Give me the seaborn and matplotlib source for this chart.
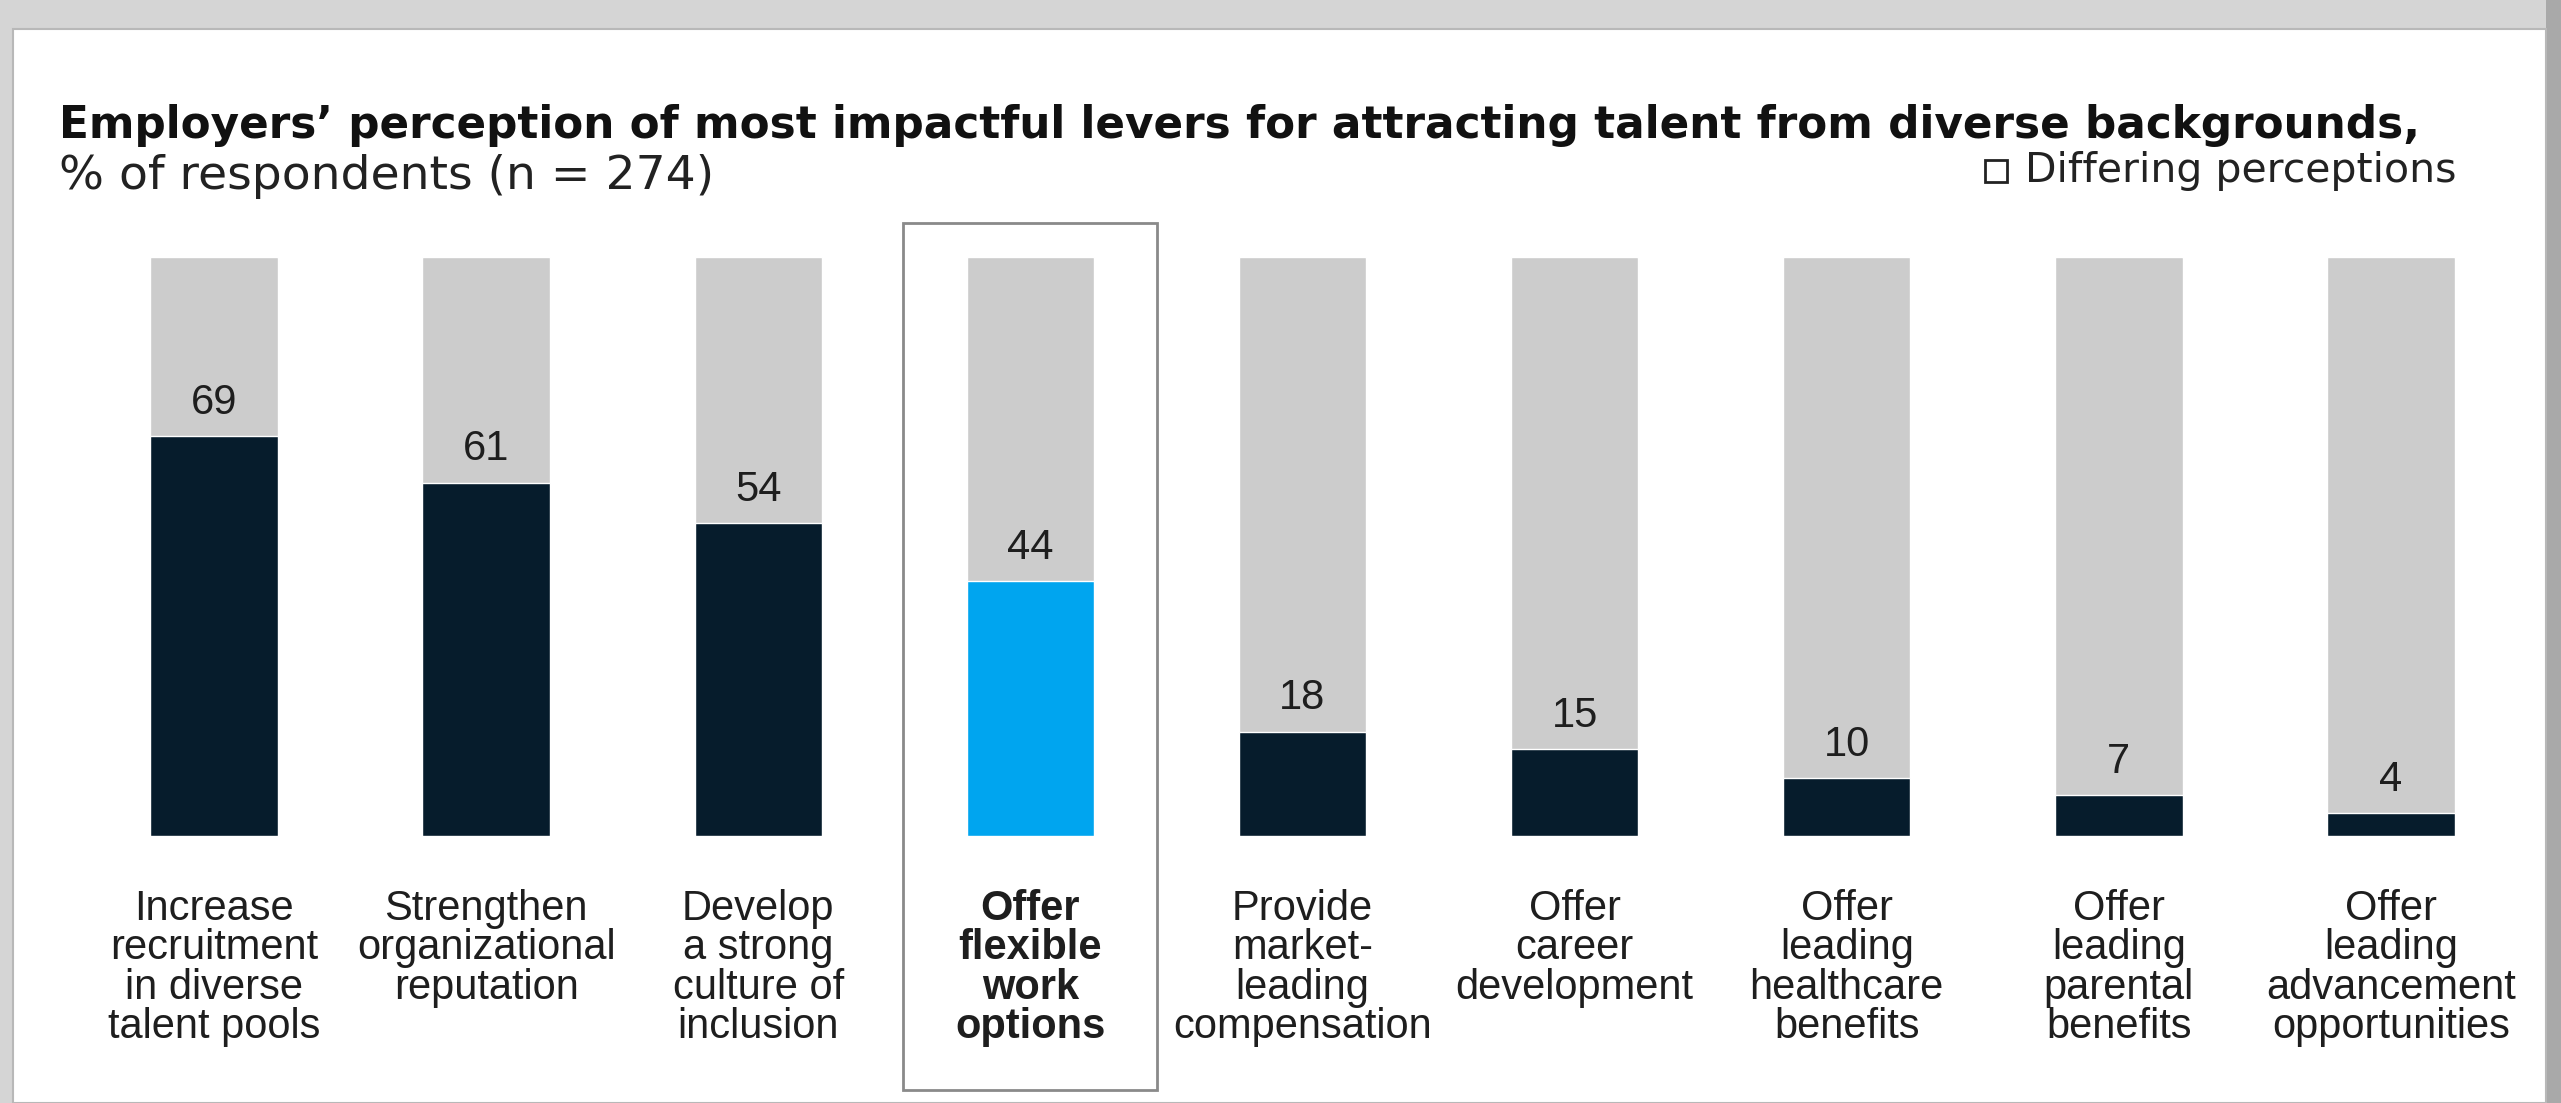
import matplotlib
matplotlib.use("Agg")
import matplotlib.pyplot as plt
from matplotlib.patches import Rectangle
import seaborn as sns
import pandas as pd

# Survey data
categories = [
    "Increase\nrecruitment\nin diverse\ntalent pools",
    "Strengthen\norganizational\nreputation",
    "Develop\na strong\nculture of\ninclusion",
    "Offer\nflexible\nwork\noptions",
    "Provide\nmarket-\nleading\ncompensation",
    "Offer\ncareer\ndevelopment",
    "Offer\nleading\nhealthcare\nbenefits",
    "Offer\nleading\nparental\nbenefits",
    "Offer\nleading\nadvancement\nopportunities",
]
values = [69, 61, 54, 44, 18, 15, 10, 7, 4]
highlight = "Offer\nflexible\nwork\noptions"

title = "Employers\u2019 perception of most impactful levers for attracting talent from diverse backgrounds,"
subtitle = "% of respondents (n = 274)"
legend_label = "Differing perceptions"

NAVY = "#061c2c"
CYAN = "#00a5ef"
GRAY = "#cccccc"
TEXT = "#1e1e1e"
HEAD_FONT = ["DejaVu Sans"]

sns.set_style("white")
plt.rcParams["font.family"] = ["Liberation Sans", "DejaVu Sans"]

W, H = 2561, 1103
fig = plt.figure(figsize=(W / 100, H / 100), dpi=100)
fig.patch.set_facecolor("#d5d5d5")

# darker strip on the right edge and the white card
fig.patches.append(Rectangle((2546 / W, 0), 15 / W, 1, transform=fig.transFigure,
                             facecolor="#a9a9a9", edgecolor="none", zorder=-3))
fig.patches.append(Rectangle((13 / W, 0), (2546 - 13) / W, (H - 29) / H,
                             transform=fig.transFigure, facecolor="white",
                             edgecolor="#b8b8b8", linewidth=1.5, zorder=-2))

df = pd.DataFrame({"lever": categories, "value": values,
                   "full": [100] * len(values)})
palette = {c: (CYAN if c == highlight else NAVY) for c in categories}

ax_left, ax_w = 78 / W, 2449 / W
ax_bottom, ax_h = (H - 836) / H, 579 / H
ax = fig.add_axes([ax_left, ax_bottom, ax_w, ax_h])
ax.set_facecolor("none")
ax.set_zorder(1)

sns.barplot(data=df, x="lever", y="full", color=GRAY, width=0.468,
            ax=ax, saturation=1, zorder=2)
sns.barplot(data=df, x="lever", y="value", hue="lever", palette=palette,
            legend=False, width=0.468, ax=ax, saturation=1, zorder=3)

ax.set_xlim(-0.5, len(categories) - 0.5)
ax.set_ylim(0, 100)
ax.set_xlabel("")
ax.set_ylabel("")
ax.set_xticks([])
ax.set_yticks([])
for s in ax.spines.values():
    s.set_visible(False)

# value labels above each bar
for i, v in enumerate(values):
    ax.annotate(f"{v}", (i, v), xytext=(0, 24), textcoords="offset points",
                ha="center", va="center", fontsize=30, color=TEXT, zorder=5)

# category labels under each bar
for i, c in enumerate(categories):
    bold = c == highlight
    ax.annotate(c, (i, 0), xytext=(0, -38), textcoords="offset points",
                ha="center", va="top", multialignment="center",
                fontsize=30, linespacing=0.98, color=TEXT,
                fontweight="bold" if bold else "normal",
                annotation_clip=False)

# frame around the highlighted lever
hi = categories.index(highlight)
ax.add_patch(Rectangle((hi - 0.467, -43.8), 0.934, 149.7, fill=False,
                       edgecolor="#8a8a8a", linewidth=2, clip_on=False,
                       zorder=1))

# title block
fig.text(59 / W, 1 - 138 / H, title, fontsize=31.5, fontweight="bold",
         family=HEAD_FONT, color="#111111", ha="left", va="baseline")
fig.text(59 / W, 1 - 189 / H, subtitle, fontsize=34, family=HEAD_FONT,
         color="#222222", ha="left", va="baseline")

# legend
fig.patches.append(Rectangle((1985 / W, 1 - 182 / H), 22 / W, 22 / H,
                             transform=fig.transFigure, fill=False,
                             edgecolor="#222222", linewidth=2))
fig.text(2025 / W, 1 - 182 / H, legend_label, fontsize=29.5, family=HEAD_FONT,
         color="#222222", ha="left", va="baseline")

fig.savefig("out.png", dpi=100, facecolor=fig.get_facecolor())
